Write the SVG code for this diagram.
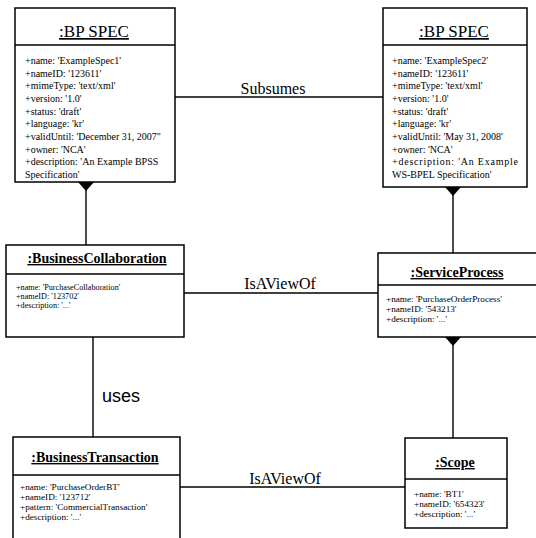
<svg xmlns="http://www.w3.org/2000/svg" width="536" height="538" viewBox="0 0 536 538" font-family="Liberation Serif, DejaVu Serif, serif">
  <style>
    .box { fill: #fff; stroke: #000; stroke-width: 1.5; }
    .sep { stroke: #000; stroke-width: 1.5; }
    .conn { stroke: #000; stroke-width: 1.4; fill: none; }
    .title { font-size: 14px; font-weight: bold; text-anchor: middle; text-decoration: underline; }
    .spec { font-size: 17px; text-anchor: middle; text-decoration: underline; }
    .attr { font-size: 10px; }
    .attr-s { font-size: 9.2px; }
    .attr-xs { font-size: 8.2px; }
    .lbl { font-size: 16px; text-anchor: middle; }
    .uses { font-size: 18px; }
  </style>
  <defs>
    <path id="diamond" d="M0,-9 L8,0 L0,9 L-8,0 Z" fill="#000"/>
  </defs>
  <rect width="536" height="538" fill="#fff"/>

  <!-- connectors -->
  <g id="connectors">
    <line class="conn" x1="175" y1="97" x2="383" y2="97"/>
    <text class="lbl" x="273" y="94">Subsumes</text>
    <line class="conn" x1="86" y1="182" x2="86" y2="245"/>
    <line class="conn" x1="453" y1="187" x2="453" y2="253"/>
    <line class="conn" x1="184" y1="293" x2="378" y2="293"/>
    <text class="lbl" x="280" y="289">IsAViewOf</text>
    <line class="conn" x1="93" y1="337" x2="93" y2="437"/>
    <text class="uses" x="102" y="402" font-family="Liberation Sans, DejaVu Sans, sans-serif">uses</text>
    <line class="conn" x1="453" y1="337" x2="453" y2="438"/>
    <line class="conn" x1="180" y1="487" x2="405" y2="487"/>
    <text class="lbl" x="285" y="484">IsAViewOf</text>
    <use href="#diamond" x="86" y="182"/>
    <use href="#diamond" x="453" y="187"/>
    <use href="#diamond" x="453" y="337"/>
  </g>

  <!-- BP_SPEC (BPSS) -->
  <g id="bpspec1">
    <rect class="box" x="15" y="8" width="160" height="174"/>
    <line class="sep" x1="15" y1="45" x2="175" y2="45"/>
    <text class="spec" x="94" y="37">:BP SPEC</text>
    <text class="attr" x="25" y="64">+name: 'ExampleSpec1'</text>
    <text class="attr" x="25" y="77">+nameID: '123611'</text>
    <text class="attr" x="25" y="89">+mimeType: 'text/xml'</text>
    <text class="attr" x="25" y="102">+version: '1.0'</text>
    <text class="attr" x="25" y="115">+status: 'draft'</text>
    <text class="attr" x="25" y="127">+language: 'kr'</text>
    <text class="attr" x="25" y="140">+validUntil: 'December 31, 2007"</text>
    <text class="attr" x="25" y="153">+owner: 'NCA'</text>
    <text class="attr" x="25" y="165">+description: 'An Example BPSS</text>
    <text class="attr" x="25" y="178">Specification'</text>
  </g>

  <!-- BP_SPEC (WS-BPEL) -->
  <g id="bpspec2">
    <rect class="box" x="383" y="8" width="144" height="179"/>
    <line class="sep" x1="383" y1="45" x2="527" y2="45"/>
    <text class="spec" x="454" y="37">:BP SPEC</text>
    <text class="attr" x="392" y="64">+name: 'ExampleSpec2'</text>
    <text class="attr" x="392" y="77">+nameID: '123611'</text>
    <text class="attr" x="392" y="89">+mimeType: 'text/xml'</text>
    <text class="attr" x="392" y="102">+version: '1.0'</text>
    <text class="attr" x="392" y="115">+status: 'draft'</text>
    <text class="attr" x="392" y="127">+language: 'kr'</text>
    <text class="attr" x="392" y="140">+validUntil: 'May 31, 2008'</text>
    <text class="attr" x="392" y="153">+owner: 'NCA'</text>
    <text class="attr" x="392" y="165" textLength="126">+description: 'An Example</text>
    <text class="attr" x="392" y="178">WS-BPEL Specification'</text>
  </g>

  <!-- BusinessCollaboration -->
  <g id="businessCollaboration">
    <rect class="box" x="6" y="245" width="178" height="92"/>
    <line class="sep" x1="6" y1="274" x2="184" y2="274"/>
    <text class="title" x="97" y="263">:BusinessCollaboration</text>
    <text class="attr-xs" x="16" y="290">+name: 'PurchaseCollaboration'</text>
    <text class="attr-xs" x="16" y="299">+nameID: '123702'</text>
    <text class="attr-xs" x="16" y="308">+description: '...'</text>
  </g>

  <!-- ServiceProcess -->
  <g id="serviceProcess">
    <rect class="box" x="378" y="253" width="170" height="84"/>
    <line class="sep" x1="378" y1="285" x2="548" y2="285"/>
    <text class="title" x="457" y="277">:ServiceProcess</text>
    <text class="attr-s" x="386" y="302">+name: 'PurchaseOrderProcess'</text>
    <text class="attr-s" x="386" y="312">+nameID: '543213'</text>
    <text class="attr-s" x="386" y="322">+description: '...'</text>
  </g>

  <!-- BusinessTransaction -->
  <g id="businessTransaction">
    <rect class="box" x="13" y="437" width="167" height="110"/>
    <line class="sep" x1="13" y1="475" x2="180" y2="475"/>
    <text class="title" x="95" y="462">:BusinessTransaction</text>
    <text class="attr-s" x="20" y="490">+name: 'PurchaseOrderBT'</text>
    <text class="attr-s" x="20" y="500">+nameID: '123712'</text>
    <text class="attr-s" x="20" y="510">+pattern: 'CommercialTransaction'</text>
    <text class="attr-s" x="20" y="520">+description: '...'</text>
  </g>

  <!-- Scope -->
  <g id="scope">
    <rect class="box" x="405" y="438" width="102" height="90"/>
    <line class="sep" x1="405" y1="479" x2="507" y2="479"/>
    <text class="title" x="455" y="467">:Scope</text>
    <text class="attr-s" x="414" y="497">+name: 'BT1'</text>
    <text class="attr-s" x="414" y="507">+nameID: '654323'</text>
    <text class="attr-s" x="414" y="517">+description: '...'</text>
  </g>
</svg>
